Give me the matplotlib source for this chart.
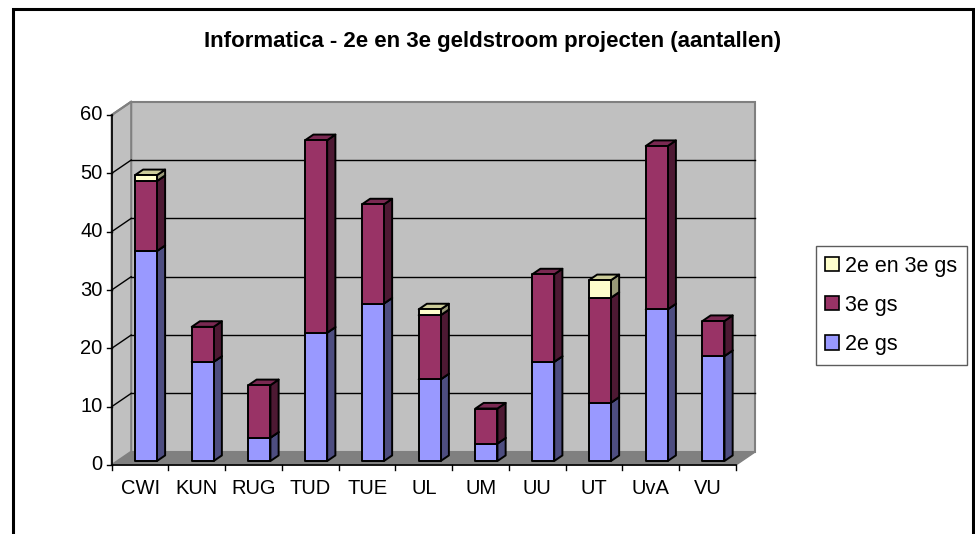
import matplotlib.pyplot as plt
import matplotlib.patches as patches
from matplotlib.lines import Line2D

categories = ["CWI", "KUN", "RUG", "TUD", "TUE", "UL", "UM", "UU", "UT", "UvA", "VU"]
tweede_gs = [36, 17, 4, 22, 27, 14, 3, 17, 10, 26, 18]
derde_gs = [12, 6, 9, 33, 17, 11, 6, 15, 18, 28, 6]
tweede_en_derde_gs = [1, 0, 0, 0, 0, 1, 0, 0, 3, 0, 0]
series_names = ["2e gs", "3e gs", "2e en 3e gs"]
yticks = [0, 10, 20, 30, 40, 50, 60]

# front, top, side colours per series
colors = [
    ("#9999FF", "#7A7ACC", "#4D4D80"),
    ("#993366", "#7A2952", "#4D1933"),
    ("#FFFFCC", "#CCCC99", "#999977"),
]

W, H = 975, 534
fig = plt.figure(figsize=(W / 100, H / 100), dpi=100)
plt.rcParams["font.family"] = ["Liberation Sans", "DejaVu Sans"]

# outer chart frame (bottom edge falls outside the picture)
fig.patches.append(
    patches.Rectangle((13 / W, -0.05), 960 / W, 1.05 - 9 / H, transform=fig.transFigure,
                      fill=False, edgecolor="black", linewidth=2.2)
)

ax = fig.add_axes([111.7 / W, (H - 465) / H, 624.3 / W, 350 / H])
n = len(categories)
ymax = 60
ax.set_xlim(0, n)
ax.set_ylim(0, ymax)
ax.axis("off")

# oblique depth offset in data units
px_x = 624.3 / n
px_y = 350 / ymax
DX = 19.5 / px_x
DY = 13.3 / px_y

wall = "#C0C0C0"
edge = "#808080"
# floor
ax.add_patch(patches.Polygon([(0, 0), (n, 0), (n + DX, DY), (DX, DY)], closed=True,
                             facecolor="#808080", edgecolor=edge, lw=1, clip_on=False, zorder=1))
# back wall
ax.add_patch(patches.Rectangle((DX, DY), n, ymax, facecolor=wall, edgecolor=edge, lw=1.5,
                               clip_on=False, zorder=1))
# side wall
ax.add_patch(patches.Polygon([(0, 0), (0, ymax), (DX, ymax + DY), (DX, DY)], closed=True,
                             facecolor=wall, edgecolor=edge, lw=1.5, clip_on=False, zorder=1))
for v in yticks[1:-1]:
    ax.add_line(Line2D([DX, n + DX], [v + DY, v + DY], color="black", lw=1, zorder=2, clip_on=False))
    ax.add_line(Line2D([0, DX], [v, v + DY], color="black", lw=1, zorder=2, clip_on=False))
ax.add_line(Line2D([0, DX], [ymax, ymax + DY], color=edge, lw=1.5, zorder=2, clip_on=False))

# axes lines and ticks
ax.add_line(Line2D([0, 0], [0, ymax], color="black", lw=1.2, zorder=3, clip_on=False))
ax.add_line(Line2D([0, n], [0, 0], color="black", lw=1.2, zorder=3, clip_on=False))
tick_x = 5 / px_x
tick_y = 5 / px_y
for v in yticks:
    ax.add_line(Line2D([-tick_x, 0], [v, v], color="black", lw=1, clip_on=False))
    ax.text(-tick_x - 4 / px_x, v, str(v), ha="right", va="center", fontsize=14.5)
for i in range(n + 1):
    ax.add_line(Line2D([i, i], [0, -tick_y], color="black", lw=1, clip_on=False))
for i, c in enumerate(categories):
    ax.text(i + 0.5, -24 / px_y, c, ha="center", va="center", fontsize=14.5)

# 3d stacked bars
f0, f1 = 0.3, 0.72
bw = 22 / px_x
ox, oy = DX * f0, DY * f0
ddx, ddy = DX * (f1 - f0), DY * (f1 - f0)
series = [tweede_gs, derde_gs, tweede_en_derde_gs]
for i in range(n):
    x0 = i + 0.5 - bw / 2 + ox
    x1 = x0 + bw
    base = 0
    for s, vals in enumerate(series):
        v = vals[i]
        if v == 0:
            continue
        y0, y1 = base + oy, base + v + oy
        front, top, side = colors[s]
        kw = dict(edgecolor="black", lw=1.4, joinstyle="round", zorder=5, clip_on=False)
        ax.add_patch(patches.Polygon([(x1, y0), (x1 + ddx, y0 + ddy), (x1 + ddx, y1 + ddy), (x1, y1)],
                                     facecolor=side, **kw))
        ax.add_patch(patches.Polygon([(x0, y1), (x1, y1), (x1 + ddx, y1 + ddy), (x0 + ddx, y1 + ddy)],
                                     facecolor=top, **kw))
        ax.add_patch(patches.Rectangle((x0, y0), bw, v, facecolor=front, **kw))
        base += v

fig.text(493 / W, 1 - 41 / H, "Informatica - 2e en 3e geldstroom projecten (aantallen)",
         ha="center", va="center", fontsize=16, fontweight="bold")

handles = [patches.Patch(facecolor=colors[s][0], edgecolor="black", lw=1.2) for s in (2, 1, 0)]
leg = fig.legend(handles, [series_names[s] for s in (2, 1, 0)], loc="center left",
                 bbox_to_anchor=(815.7 / W, 1 - 305.3 / H), fontsize=15.5, frameon=True,
                 fancybox=False, handlelength=0.65, handleheight=0.65, handletextpad=0.25,
                 labelspacing=0.85, borderpad=0.45, borderaxespad=0)
leg.get_frame().set_edgecolor("#333333")
leg.get_frame().set_linewidth(1)

fig.savefig("out.png", dpi=100)
